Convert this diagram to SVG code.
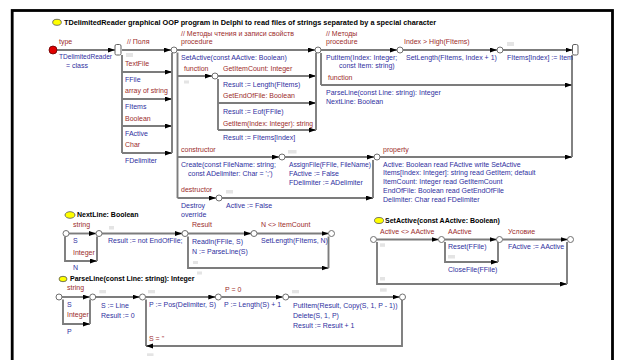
<svg xmlns="http://www.w3.org/2000/svg" width="622" height="360" viewBox="0 0 622 360">
<style>
text{font-family:"Liberation Sans",Arial,sans-serif;font-size:7px}
.r{fill:#9c2c2c}
.b{fill:#2f2fa0}
.t{fill:#000;font-weight:bold}
.tt{font-size:7.3px}
.ln{fill:none;stroke:#7c7c7c;stroke-width:1.9}
.ar{marker-end:url(#arr)}
.jn{fill:#fff;stroke:#707070;stroke-width:1}
.ph{fill:#e4e4e4}
.ye{fill:#ffff00;stroke:#555;stroke-width:0.8}
.sq{fill:#fff;stroke:#606060;stroke-width:1}
</style>
<defs>
<marker id="arr" markerUnits="userSpaceOnUse" markerWidth="8" markerHeight="6" refX="7" refY="2.5" orient="auto">
<path d="M0,0 L7,2.5 L0,5 z" fill="#000"/>
</marker>
</defs>
<rect x="0" y="0" width="622" height="360" fill="#fff"/>
<rect x="12.2" y="10.5" width="600.3" height="360" fill="none" stroke="#000" stroke-width="2.8"/>

<g id="connectors">
<path class="ln ar" d="M57,50 H115"/>
<path class="ln ar" d="M122,50 H171"/>
<path class="ln" d="M122,55 V153"/>
<path class="ln ar" d="M122,72 H172"/>
<path class="ln ar" d="M122,99 H172"/>
<path class="ln ar" d="M122,126 H172"/>
<path class="ln ar" d="M122,153 H172"/>
<path class="ln" d="M172,53 V153"/>
<path class="ln" d="M177.5,52.5 V198"/>
<path class="ln ar" d="M177,50 H315"/>
<path class="ln ar" d="M177.5,76 H212"/>
<path class="ln ar" d="M218,76 H316"/>
<path class="ln" d="M218,79 V130"/>
<path class="ln ar" d="M218,103 H316"/>
<path class="ln ar" d="M218,130 H316"/>
<path class="ln" d="M316,53 V130"/>
<path class="ln ar" d="M177.5,157 H279"/>
<path class="ln ar" d="M285,157 H374"/>
<path class="ln ar" d="M177.5,198 H216"/>
<path class="ln ar" d="M222,198 H373"/>
<path class="ln" d="M373,198 V160"/>
<path class="ln ar" d="M380,157 H572"/>
<path class="ln ar" d="M321,50 H397"/>
<path class="ln ar" d="M403,50 H497"/>
<path class="ln ar" d="M503,50 H572.5"/>
<path class="ln" d="M572,55 V157"/>
<path class="ln" d="M321,53 V85"/>
<path class="ln ar" d="M321,85 H572"/>

<path class="ln ar" d="M69,233.5 H96"/>
<path class="ln ar" d="M65,236.5 V261 H97"/>
<path class="ln" d="M97,236.5 V261"/>
<path class="ln ar" d="M102,233.5 H182"/>
<path class="ln ar" d="M188,236.5 V268 H328.5"/>
<path class="ln" d="M328.5,236.5 V268"/>
<path class="ln ar" d="M188,233.5 H251"/>
<path class="ln ar" d="M257,233.5 H328.5"/>

<path class="ln ar" d="M376.5,239.5 H438.5"/>
<path class="ln ar" d="M377,242 V284 H567"/>
<path class="ln" d="M567,242 V284"/>
<path class="ln ar" d="M444.5,239.5 H496.5"/>
<path class="ln ar" d="M445,242 V262 H498"/>
<path class="ln" d="M498,242 V262"/>
<path class="ln ar" d="M502.5,239.5 H567.5"/>

<path class="ln ar" d="M62,297 H89.7"/>
<path class="ln ar" d="M63,299.5 V324 H90"/>
<path class="ln" d="M90,299.5 V324"/>
<path class="ln ar" d="M95.7,297 H139.5"/>
<path class="ln" d="M146,299.5 V346"/>
<path class="ln ar" d="M402,300 V346 H146"/>
<path class="ln ar" d="M145.5,297 H215.3"/>
<path class="ln ar" d="M221.3,297 H282.7"/>
<path class="ln ar" d="M288.7,297 H399.5"/>
</g>

<g id="junctions">
<circle class="jn" cx="174" cy="50" r="3"/>
<circle class="jn" cx="215" cy="76" r="3"/>
<circle class="jn" cx="318" cy="50" r="3"/>
<circle class="jn" cx="400" cy="50" r="3"/>
<circle class="jn" cx="500" cy="50" r="3"/>
<circle class="jn" cx="282" cy="157" r="3"/>
<circle class="jn" cx="377" cy="157" r="3"/>
<circle class="jn" cx="219" cy="198" r="3"/>
<circle class="jn" cx="66" cy="233.5" r="3"/>
<circle class="jn" cx="99" cy="233.5" r="3"/>
<circle class="jn" cx="185" cy="233.5" r="3"/>
<circle class="jn" cx="254" cy="233.5" r="3"/>
<circle class="jn" cx="331.5" cy="233.5" r="3"/>
<circle class="jn" cx="373.5" cy="239.5" r="3"/>
<circle class="jn" cx="441.5" cy="239.5" r="3"/>
<circle class="jn" cx="499.5" cy="239.5" r="3"/>
<circle class="jn" cx="570.5" cy="239.5" r="3"/>
<circle class="jn" cx="59" cy="297" r="3"/>
<circle class="jn" cx="92.7" cy="297" r="3"/>
<circle class="jn" cx="142.5" cy="297" r="3"/>
<circle class="jn" cx="218.3" cy="297" r="3"/>
<circle class="jn" cx="285.7" cy="297" r="3"/>
<circle class="jn" cx="402.5" cy="297" r="3"/>
</g>

<g id="placeholders">
<rect class="ph" x="126" y="53" width="7" height="4"/>
<rect class="ph" x="184" y="80.5" width="5" height="3"/>
<rect class="ph" x="507" y="42" width="7" height="4"/>
<rect class="ph" x="288" y="150" width="8.5" height="3.5"/>
<rect class="ph" x="226" y="190" width="7" height="3.5"/>
<rect class="ph" x="109" y="226" width="5" height="3.5"/>
<rect class="ph" x="193" y="261" width="5" height="3"/>
<rect class="ph" x="197" y="271.5" width="5" height="3"/>
<rect class="ph" x="380" y="243.3" width="5" height="3.5"/>
<rect class="ph" x="380" y="277" width="5" height="3.5"/>
<rect class="ph" x="448" y="255" width="7" height="3.5"/>
<rect class="ph" x="99.3" y="290" width="6.7" height="3.3"/>
<rect class="ph" x="148" y="290" width="7" height="3.3"/>
<rect class="ph" x="147" y="353.3" width="6.5" height="2.7"/>
<rect class="ph" x="292" y="290" width="7" height="3.3"/>
<rect class="ph" x="380" y="288.3" width="6.7" height="3.4"/>
</g>

<g id="title">
<ellipse class="ye" cx="57" cy="22.3" rx="4.3" ry="3"/>
<text class="t tt" x="64" y="24.6">TDelimitedReader graphical OOP program in Delphi to read files of strings separated by a special character</text>
</g>

<g id="type-start">
<circle cx="53" cy="50" r="4" fill="#e00000" stroke="#600" stroke-width="0.8"/>
<text class="r" x="59" y="44">type</text>
<text class="b" x="59" y="59" textLength="53" lengthAdjust="spacingAndGlyphs">TDelimitedReader</text>
<text class="b" x="66" y="68.4">= class</text>
<rect class="sq" x="115" y="44.5" width="6" height="10.5" rx="1.5"/>
</g>

<g id="fields">
<text class="r" x="127" y="44">// Поля</text>
<text class="r" x="125" y="65.7">TextFile</text>
<text class="b" x="125" y="82.4">FFile</text>
<text class="r" x="125" y="93">array of string</text>
<text class="b" x="125" y="109">FItems</text>
<text class="r" x="125" y="120.7">Boolean</text>
<text class="b" x="125" y="135.7">FActive</text>
<text class="r" x="125" y="147.4">Char</text>
<text class="b" x="125" y="163.4">FDelimiter</text>
</g>

<g id="methods-rw">
<text class="r" x="181" y="35.7">// Методы чтения и записи свойств</text>
<text class="r" x="181" y="44">procedure</text>
<text class="b" x="181" y="59.7">SetActive(const AActive: Boolean)</text>
<text class="r" x="184" y="70.8">function</text>
<text class="r" x="223" y="71.3">GetItemCount: Integer</text>
<text class="b" x="223" y="87.4">Result := Length(FItems)</text>
<text class="r" x="223" y="98.3">GetEndOfFile: Boolean</text>
<text class="b" x="223" y="114">Result := Eof(FFile)</text>
<text class="r" x="223" y="125.7" textLength="90" lengthAdjust="spacingAndGlyphs">GetItem(Index: Integer): string</text>
<text class="b" x="223" y="140">Result := FItems[Index]</text>
</g>

<g id="constructor">
<text class="r" x="181" y="152.4">constructor</text>
<text class="b" x="181" y="167.4">Create(const FileName: string;</text>
<text class="b" x="188" y="176.4">const ADelimiter: Char = ';')</text>
<text class="b" x="289" y="167.4" textLength="82" lengthAdjust="spacingAndGlyphs">AssignFile(FFile, FileName)</text>
<text class="b" x="289" y="176.4">FActive := False</text>
<text class="b" x="289" y="185">FDelimiter := ADelimiter</text>
</g>

<g id="destructor">
<text class="r" x="181" y="192.4">destructor</text>
<text class="b" x="181" y="208.4">Destroy</text>
<text class="b" x="181" y="217.4">override</text>
<text class="b" x="226" y="208.4">Active := False</text>
</g>

<g id="methods">
<text class="r" x="326" y="35.7">// Методы</text>
<text class="r" x="326" y="44">procedure</text>
<text class="b" x="326" y="59.7">PutItem(Index: Integer;</text>
<text class="b" x="339" y="68.4">const Item: string)</text>
<text class="r" x="328" y="80">function</text>
<text class="b" x="326" y="94.7">ParseLine(const Line: string): Integer</text>
<text class="b" x="326" y="104">NextLine: Boolean</text>
<text class="r" x="404" y="44">Index &gt; High(FItems)</text>
<text class="b" x="406" y="59.7">SetLength(FItems, Index + 1)</text>
<text class="b" x="507" y="59.7">FItems[Index] := Item</text>
<rect class="sq" x="572.5" y="44.5" width="5.5" height="10.5" rx="1.5"/>
</g>

<g id="properties">
<text class="r" x="383" y="152.4">property</text>
<text class="b" x="383" y="166.5">Active: Boolean read FActive write SetActive</text>
<text class="b" x="383" y="175.3">Items[Index: Integer]: string read GetItem; default</text>
<text class="b" x="383" y="184.1">ItemCount: Integer read GetItemCount</text>
<text class="b" x="383" y="192.9">EndOfFile: Boolean read GetEndOfFile</text>
<text class="b" x="383" y="201.7">Delimiter: Char read FDelimiter</text>
</g>

<g id="nextline">
<ellipse class="ye" cx="70" cy="215" rx="5" ry="3.3"/>
<text class="t" x="77" y="217.4">NextLine: Boolean</text>
<text class="r" x="73" y="227.4">string</text>
<text class="b" x="73" y="243.4">S</text>
<text class="r" x="73" y="254.7">Integer</text>
<text class="b" x="73" y="270">N</text>
<text class="b" x="108" y="243.4">Result := not EndOfFile;</text>
<text class="r" x="192" y="227.4">Result</text>
<text class="b" x="192" y="244">Readln(FFile, S)</text>
<text class="b" x="192" y="254">N := ParseLine(S)</text>
<text class="r" x="261" y="227.4">N &lt;&gt; ItemCount</text>
<text class="b" x="261" y="243">SetLength(FItems, N)</text>
</g>

<g id="setactive">
<ellipse class="ye" cx="379" cy="220.5" rx="4.5" ry="3"/>
<text class="t" x="385" y="223">SetActive(const AActive: Boolean)</text>
<text class="r" x="380" y="234.4">Active &lt;&gt; AActive</text>
<text class="r" x="448" y="234.4">AActive</text>
<text class="b" x="448" y="249">Reset(FFile)</text>
<text class="b" x="448" y="272.4">CloseFile(FFile)</text>
<text class="r" x="508" y="234.4">Условие</text>
<text class="b" x="508" y="249">FActive := AActive</text>
</g>

<g id="parseline">
<ellipse class="ye" cx="63" cy="279" rx="4" ry="2.7"/>
<text class="t" x="70" y="281.4">ParseLine(const Line: string): Integer</text>
<text class="r" x="67" y="290.4">string</text>
<text class="b" x="67" y="307.4">S</text>
<text class="r" x="67" y="317.4">Integer</text>
<text class="b" x="67" y="334">P</text>
<text class="b" x="101" y="308.4">S := Line</text>
<text class="b" x="101" y="318.4">Result := 0</text>
<text class="b" x="149" y="307.4">P := Pos(Delimiter, S)</text>
<text class="r" x="149" y="341.4">S = ''</text>
<text class="r" x="225" y="291.7">P = 0</text>
<text class="b" x="224" y="307.4">P := Length(S) + 1</text>
<text class="b" x="293" y="308.4">PutItem(Result, Copy(S, 1, P - 1))</text>
<text class="b" x="293" y="318.4">Delete(S, 1, P)</text>
<text class="b" x="293" y="328.4">Result := Result + 1</text>
</g>
</svg>
